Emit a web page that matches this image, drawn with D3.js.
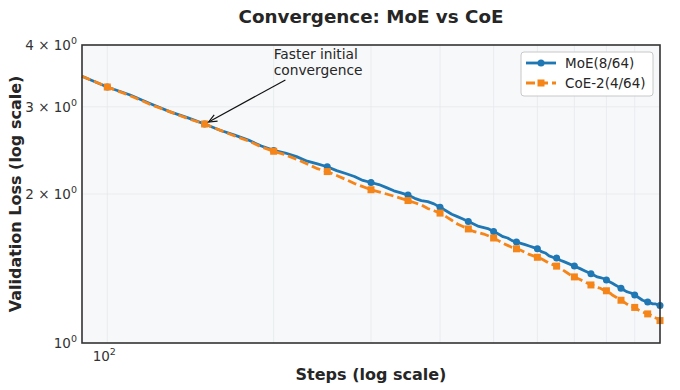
<!DOCTYPE html>
<html>
<head>
<meta charset="utf-8">
<script src="https://cdn.jsdelivr.net/npm/d3@7/dist/d3.min.js"></script>
<style>
  body { margin: 0; background: #fff; }
  text { font-family: "DejaVu Sans", sans-serif; fill: #262626; }
</style>
</head>
<body>
<svg id="chart"></svg>
<script>
// training steps (log x axis)
const steps = [90, 100, 110, 120, 130, 140, 150, 160, 170, 180, 190, 200, 210, 220, 230, 240, 250,
  260, 270, 280, 290, 300, 310, 320, 330, 340, 350, 360, 370, 380, 390, 400, 410, 420, 430, 440, 450,
  460, 470, 480, 490, 500, 510, 520, 530, 540, 550, 560, 570, 580, 590, 600, 610, 620, 630, 640, 650,
  660, 670, 680, 690, 700, 710, 720, 730, 740, 750, 760, 770, 780, 790, 800, 810, 820, 830, 840, 850,
  860, 870, 880, 890, 900, 910, 920, 930, 940, 950, 960, 970, 980, 990, 1000];

const moeLoss = [3.46, 3.29, 3.17, 3.04, 2.93, 2.85, 2.77, 2.69, 2.63, 2.57, 2.50, 2.45, 2.42, 2.38, 2.33, 2.30, 2.27,
  2.23, 2.20, 2.17, 2.13, 2.11, 2.09, 2.06, 2.03, 2.01, 1.99, 1.96, 1.94, 1.93, 1.91, 1.88, 1.85, 1.82, 1.80, 1.78, 1.76,
  1.74, 1.72, 1.71, 1.70, 1.68, 1.66, 1.64, 1.63, 1.61, 1.60, 1.59, 1.58, 1.57, 1.56, 1.55, 1.53, 1.52, 1.50, 1.49, 1.485,
  1.47, 1.46, 1.45, 1.44, 1.43, 1.42, 1.41, 1.40, 1.39, 1.38, 1.37, 1.36, 1.355, 1.35, 1.34, 1.33, 1.32, 1.31, 1.30, 1.29,
  1.28, 1.27, 1.265, 1.26, 1.25, 1.24, 1.23, 1.22, 1.215, 1.21, 1.205, 1.20, 1.20, 1.195, 1.19];

const coeLoss = [3.46, 3.29, 3.16, 3.03, 2.93, 2.84, 2.77, 2.69, 2.62, 2.56, 2.49, 2.44, 2.40, 2.35, 2.30, 2.25, 2.22,
  2.18, 2.14, 2.10, 2.07, 2.04, 2.02, 2.00, 1.98, 1.96, 1.94, 1.92, 1.90, 1.87, 1.85, 1.83, 1.80, 1.77, 1.74, 1.72, 1.70,
  1.68, 1.67, 1.66, 1.645, 1.63, 1.61, 1.59, 1.575, 1.56, 1.55, 1.54, 1.525, 1.51, 1.50, 1.49, 1.48, 1.465, 1.45, 1.44, 1.43,
  1.415, 1.40, 1.385, 1.37, 1.36, 1.35, 1.34, 1.33, 1.32, 1.31, 1.305, 1.295, 1.29, 1.28, 1.275, 1.265, 1.25, 1.24, 1.23, 1.22,
  1.21, 1.20, 1.19, 1.185, 1.18, 1.17, 1.16, 1.155, 1.15, 1.145, 1.14, 1.13, 1.125, 1.12, 1.11];

const seriesNames = ["MoE(8/64)", "CoE-2(4/64)"];
const yTicks = [1, 2, 3, 4];
const yTickMant = ["", "2 \u00d7 ", "3 \u00d7 ", "4 \u00d7 "];
const xTicks = [100];
const xGrid = [100, 200, 300, 400, 500, 600, 700, 800, 900];

const w = 680, h = 390;
const margin = { top: 45, right: 20, bottom: 47, left: 82 };

const svg = d3.select("#chart").attr("width", w).attr("height", h);

const x = d3.scaleLog().domain([90, 1000]).range([margin.left, w - margin.right]);
const y = d3.scaleLog().domain([1, 4]).range([h - margin.bottom, margin.top]);

// axes background
svg.append("rect")
  .attr("x", margin.left).attr("y", margin.top)
  .attr("width", w - margin.left - margin.right)
  .attr("height", h - margin.top - margin.bottom)
  .attr("fill", "#f7f8fa");

// grid
svg.append("g").selectAll("line").data(xGrid).join("line")
  .attr("x1", d => x(d)).attr("x2", d => x(d))
  .attr("y1", margin.top).attr("y2", h - margin.bottom)
  .attr("stroke", "#e6e8eb").attr("stroke-width", 0.8);
svg.append("g").selectAll("line").data([2, 3]).join("line")
  .attr("y1", d => y(d)).attr("y2", d => y(d))
  .attr("x1", margin.left).attr("x2", w - margin.right)
  .attr("stroke", "#e6e8eb").attr("stroke-width", 0.8);

// tick labels
const yl = svg.append("g").selectAll("text").data(yTicks).join("text")
  .attr("x", margin.left - 5).attr("y", d => y(d) + 5)
  .attr("text-anchor", "end").attr("font-size", 13.5).style("fill", "#333");
yl.append("tspan").text((d, i) => yTickMant[i] + "10");
yl.append("tspan").attr("dy", -6).attr("font-size", 9.5).text("0");

const xl = svg.append("g").selectAll("text").data(xTicks).join("text")
  .attr("x", d => x(d) - 3).attr("y", h - margin.bottom + 18)
  .attr("text-anchor", "middle").attr("font-size", 13.5).style("fill", "#333");
xl.append("tspan").text("10");
xl.append("tspan").attr("dy", -6).attr("font-size", 9.5).text("2");

// lines
const line = d3.line().x((d, i) => x(steps[i])).y(d => y(d));
const blue = "#1f77b4", orange = "#f58518";

svg.append("path").datum(moeLoss)
  .attr("d", line).attr("fill", "none")
  .attr("stroke", blue).attr("stroke-width", 2.8).attr("stroke-linejoin", "round");
svg.append("g").selectAll("circle")
  .data(moeLoss.map((v, i) => [steps[i], v]).filter(d => d[0] % 50 === 0))
  .join("circle")
  .attr("cx", d => x(d[0])).attr("cy", d => y(d[1])).attr("r", 3.5)
  .attr("fill", blue);

svg.append("path").datum(coeLoss)
  .attr("d", line).attr("fill", "none")
  .attr("stroke", orange).attr("stroke-width", 2.8)
  .attr("stroke-dasharray", "9,4");
svg.append("g").selectAll("rect")
  .data(coeLoss.map((v, i) => [steps[i], v]).filter(d => d[0] % 50 === 0))
  .join("rect")
  .attr("x", d => x(d[0]) - 3.5).attr("y", d => y(d[1]) - 3.5)
  .attr("width", 7).attr("height", 7)
  .attr("fill", orange);

// spines
svg.append("rect")
  .attr("x", margin.left).attr("y", margin.top)
  .attr("width", w - margin.left - margin.right)
  .attr("height", h - margin.top - margin.bottom)
  .attr("fill", "none").attr("stroke", "#333").attr("stroke-width", 1.6);

// annotation
const ax0 = x(210), ay0 = y(3.40), ax1 = x(150) + 4, ay1 = y(2.77) - 2;
svg.append("line")
  .attr("x1", ax0).attr("y1", ay0).attr("x2", ax1).attr("y2", ay1)
  .attr("stroke", "#111").attr("stroke-width", 1.2);
const ang = Math.atan2(ay0 - ay1, ax0 - ax1);
svg.append("path")
  .attr("d", `M${ax1 + 9 * Math.cos(ang - 0.4)},${ay1 + 9 * Math.sin(ang - 0.4)}L${ax1},${ay1}L${ax1 + 9 * Math.cos(ang + 0.4)},${ay1 + 9 * Math.sin(ang + 0.4)}`)
  .attr("fill", "none").attr("stroke", "#111").attr("stroke-width", 1.2);
svg.append("text").attr("x", x(200)).attr("y", y(3.75)).attr("font-size", 13.8).text("Faster initial");
svg.append("text").attr("x", x(200)).attr("y", y(3.75) + 16).attr("font-size", 13.8).text("convergence");

// titles
svg.append("text").attr("x", (margin.left + w - margin.right) / 2).attr("y", 23)
  .attr("text-anchor", "middle").attr("font-size", 18.3).attr("font-weight", "bold")
  .text("Convergence: MoE vs CoE");
svg.append("text").attr("x", (margin.left + w - margin.right) / 2).attr("y", 380)
  .attr("text-anchor", "middle").attr("font-size", 16).attr("font-weight", "bold")
  .text("Steps (log scale)");
svg.append("text")
  .attr("transform", `translate(21,${(margin.top + h - margin.bottom) / 2}) rotate(-90)`)
  .attr("text-anchor", "middle").attr("font-size", 16).attr("font-weight", "bold")
  .text("Validation Loss (log scale)");

// legend
const lg = svg.append("g").attr("transform", "translate(521,52)");
lg.append("rect").attr("width", 132).attr("height", 44).attr("rx", 3)
  .attr("fill", "#fff").attr("fill-opacity", 0.9).attr("stroke", "#c8c8c8");
lg.append("line").attr("x1", 5).attr("x2", 35).attr("y1", 11).attr("y2", 11)
  .attr("stroke", blue).attr("stroke-width", 2.8);
lg.append("circle").attr("cx", 20).attr("cy", 11).attr("r", 3.5).attr("fill", blue);
lg.append("line").attr("x1", 5).attr("x2", 35).attr("y1", 31).attr("y2", 31)
  .attr("stroke", orange).attr("stroke-width", 2.8).attr("stroke-dasharray", "9,4");
lg.append("rect").attr("x", 16.5).attr("y", 27.5).attr("width", 7).attr("height", 7).attr("fill", orange);
lg.selectAll("text.lab").data(seriesNames).join("text").attr("class", "lab")
  .attr("x", 44).attr("y", (d, i) => 16 + i * 20).attr("font-size", 13.5).text(d => d);
</script>
</body>
</html>
